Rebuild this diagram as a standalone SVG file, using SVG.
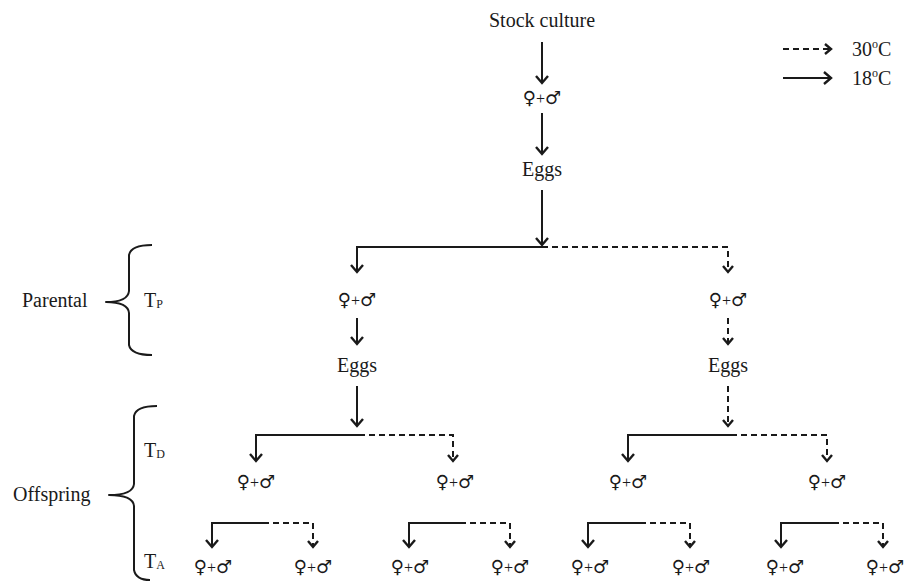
<svg xmlns="http://www.w3.org/2000/svg" width="906" height="581" viewBox="0 0 906 581">
  <style>
    .t { font-family: "Liberation Serif", "Times New Roman", serif; font-size: 20px; fill: #1a1a1a; }
    .sub { font-size: 12px; }
    .sym { font-family: "DejaVu Sans", sans-serif; font-size: 18px; fill: #1a1a1a; }
    .plus { font-family: "Liberation Serif", serif; font-size: 16px; }
    .solid { fill: none; stroke: #1a1a1a; stroke-width: 2; }
    .dash { fill: none; stroke: #1a1a1a; stroke-width: 2; stroke-dasharray: 6 4; }
    .brace { fill: none; stroke: #1a1a1a; stroke-width: 2; stroke-linejoin: round; }
  </style>
  <defs>
    <marker id="head" markerUnits="userSpaceOnUse" markerWidth="16" markerHeight="16" viewBox="-9 -8 11 16" refX="0" refY="0" orient="auto">
      <path d="M-7,-6 L0,0 L-7,6" fill="none" stroke="#1a1a1a" stroke-width="2.4" stroke-dasharray="none"/>
    </marker>
    <marker id="headS" markerUnits="userSpaceOnUse" markerWidth="16" markerHeight="16" viewBox="-9 -8 11 16" refX="0" refY="0" orient="auto">
      <path d="M-6,-5 L0,0 L-6,5" fill="none" stroke="#1a1a1a" stroke-width="2.4" stroke-dasharray="none"/>
    </marker>
  </defs>

  <rect width="906" height="581" fill="#ffffff"/>

  <!-- legend -->
  <g id="legend">
    <path class="dash" d="M783,49 H831" marker-end="url(#headS)"/>
    <path class="solid" d="M783,78 H831" marker-end="url(#head)"/>
    <text class="t" x="852" y="56">30<tspan font-size="12" dy="-8">o</tspan><tspan dy="8">C</tspan></text>
    <text class="t" x="852" y="85">18<tspan font-size="12" dy="-8">o</tspan><tspan dy="8">C</tspan></text>
  </g>

  <!-- generation brackets -->
  <g id="parental">
    <path class="brace" d="M152,245 Q131,245 129,255 L129,291 Q128,302 106,302 Q128,302 129,313 L129,345 Q131,355 152,355"/>
    <text class="t" x="22" y="307">Parental</text>
    <text class="t" x="144" y="307">T<tspan class="sub" dy="1">P</tspan></text>
  </g>
  <g id="offspring">
    <path class="brace" d="M157,406 Q136,406 134,416 L134,484 Q133,495 109,495 Q133,495 134,506 L134,570 Q136,580 150,580"/>
    <text class="t" x="13" y="501">Offspring</text>
    <text class="t" x="144" y="457">T<tspan class="sub" dy="1">D</tspan></text>
    <text class="t" x="144" y="568">T<tspan class="sub" dy="1">A</tspan></text>
  </g>

  <!-- connectors -->
  <g id="connectors">
    <path class="solid" d="M542,42 V83" marker-end="url(#head)"/>
    <path class="solid" d="M542,113 V154" marker-end="url(#head)"/>
    <path class="solid" d="M542,190 V245" marker-end="url(#head)"/>
    <!-- split into 18 °C and 30 °C lines -->
    <path class="solid" d="M542,247 H357 V272" marker-end="url(#head)"/>
    <path class="dash" d="M542,247 H728 V272" marker-end="url(#headS)"/>
    <path class="solid" d="M357,318 V344" marker-end="url(#head)"/>
    <path class="dash" d="M728,318 V344" marker-end="url(#headS)"/>
    <path class="solid" d="M357,386 V426" marker-end="url(#head)"/>
    <path class="dash" d="M728,386 V426" marker-end="url(#headS)"/>
    <!-- offspring generation TD -->
    <path class="solid" d="M359,435 H256 V461" marker-end="url(#head)"/>
    <path class="dash" d="M359,435 H453 V461" marker-end="url(#headS)"/>
    <path class="solid" d="M731,435 H628 V461" marker-end="url(#head)"/>
    <path class="dash" d="M731,435 H827 V461" marker-end="url(#headS)"/>
    <!-- offspring generation TA -->
    <path class="solid" d="M263,523 H212 V547" marker-end="url(#head)"/>
    <path class="dash" d="M263,523 H313 V547" marker-end="url(#headS)"/>
    <path class="solid" d="M460,523 H409 V547" marker-end="url(#head)"/>
    <path class="dash" d="M460,523 H510 V547" marker-end="url(#headS)"/>
    <path class="solid" d="M640,523 H588 V547" marker-end="url(#head)"/>
    <path class="dash" d="M640,523 H690 V547" marker-end="url(#headS)"/>
    <path class="solid" d="M833,523 H781 V547" marker-end="url(#head)"/>
    <path class="dash" d="M833,523 H883 V547" marker-end="url(#headS)"/>
  </g>

  <!-- nodes -->
  <g id="stock"><text class="t" x="542" y="27" text-anchor="middle">Stock culture</text></g>
  <g id="pair-stock"><text class="sym" x="542" y="104" text-anchor="middle">♀<tspan class="plus">+</tspan>♂</text></g>
  <g id="eggs-stock"><text class="t" x="542" y="176" text-anchor="middle">Eggs</text></g>

  <g id="pair-p18"><text class="sym" x="357" y="306" text-anchor="middle">♀<tspan class="plus">+</tspan>♂</text></g>
  <g id="pair-p30"><text class="sym" x="728" y="306" text-anchor="middle">♀<tspan class="plus">+</tspan>♂</text></g>
  <g id="eggs-p18"><text class="t" x="357" y="372" text-anchor="middle">Eggs</text></g>
  <g id="eggs-p30"><text class="t" x="728" y="372" text-anchor="middle">Eggs</text></g>

  <g id="pair-d1"><text class="sym" x="256" y="488" text-anchor="middle">♀<tspan class="plus">+</tspan>♂</text></g>
  <g id="pair-d2"><text class="sym" x="455" y="488" text-anchor="middle">♀<tspan class="plus">+</tspan>♂</text></g>
  <g id="pair-d3"><text class="sym" x="628" y="488" text-anchor="middle">♀<tspan class="plus">+</tspan>♂</text></g>
  <g id="pair-d4"><text class="sym" x="827" y="488" text-anchor="middle">♀<tspan class="plus">+</tspan>♂</text></g>

  <g id="pair-a1"><text class="sym" x="213" y="573" text-anchor="middle">♀<tspan class="plus">+</tspan>♂</text></g>
  <g id="pair-a2"><text class="sym" x="313" y="573" text-anchor="middle">♀<tspan class="plus">+</tspan>♂</text></g>
  <g id="pair-a3"><text class="sym" x="410" y="573" text-anchor="middle">♀<tspan class="plus">+</tspan>♂</text></g>
  <g id="pair-a4"><text class="sym" x="510" y="573" text-anchor="middle">♀<tspan class="plus">+</tspan>♂</text></g>
  <g id="pair-a5"><text class="sym" x="590" y="573" text-anchor="middle">♀<tspan class="plus">+</tspan>♂</text></g>
  <g id="pair-a6"><text class="sym" x="691" y="573" text-anchor="middle">♀<tspan class="plus">+</tspan>♂</text></g>
  <g id="pair-a7"><text class="sym" x="785" y="573" text-anchor="middle">♀<tspan class="plus">+</tspan>♂</text></g>
  <g id="pair-a8"><text class="sym" x="885" y="573" text-anchor="middle">♀<tspan class="plus">+</tspan>♂</text></g>
</svg>
